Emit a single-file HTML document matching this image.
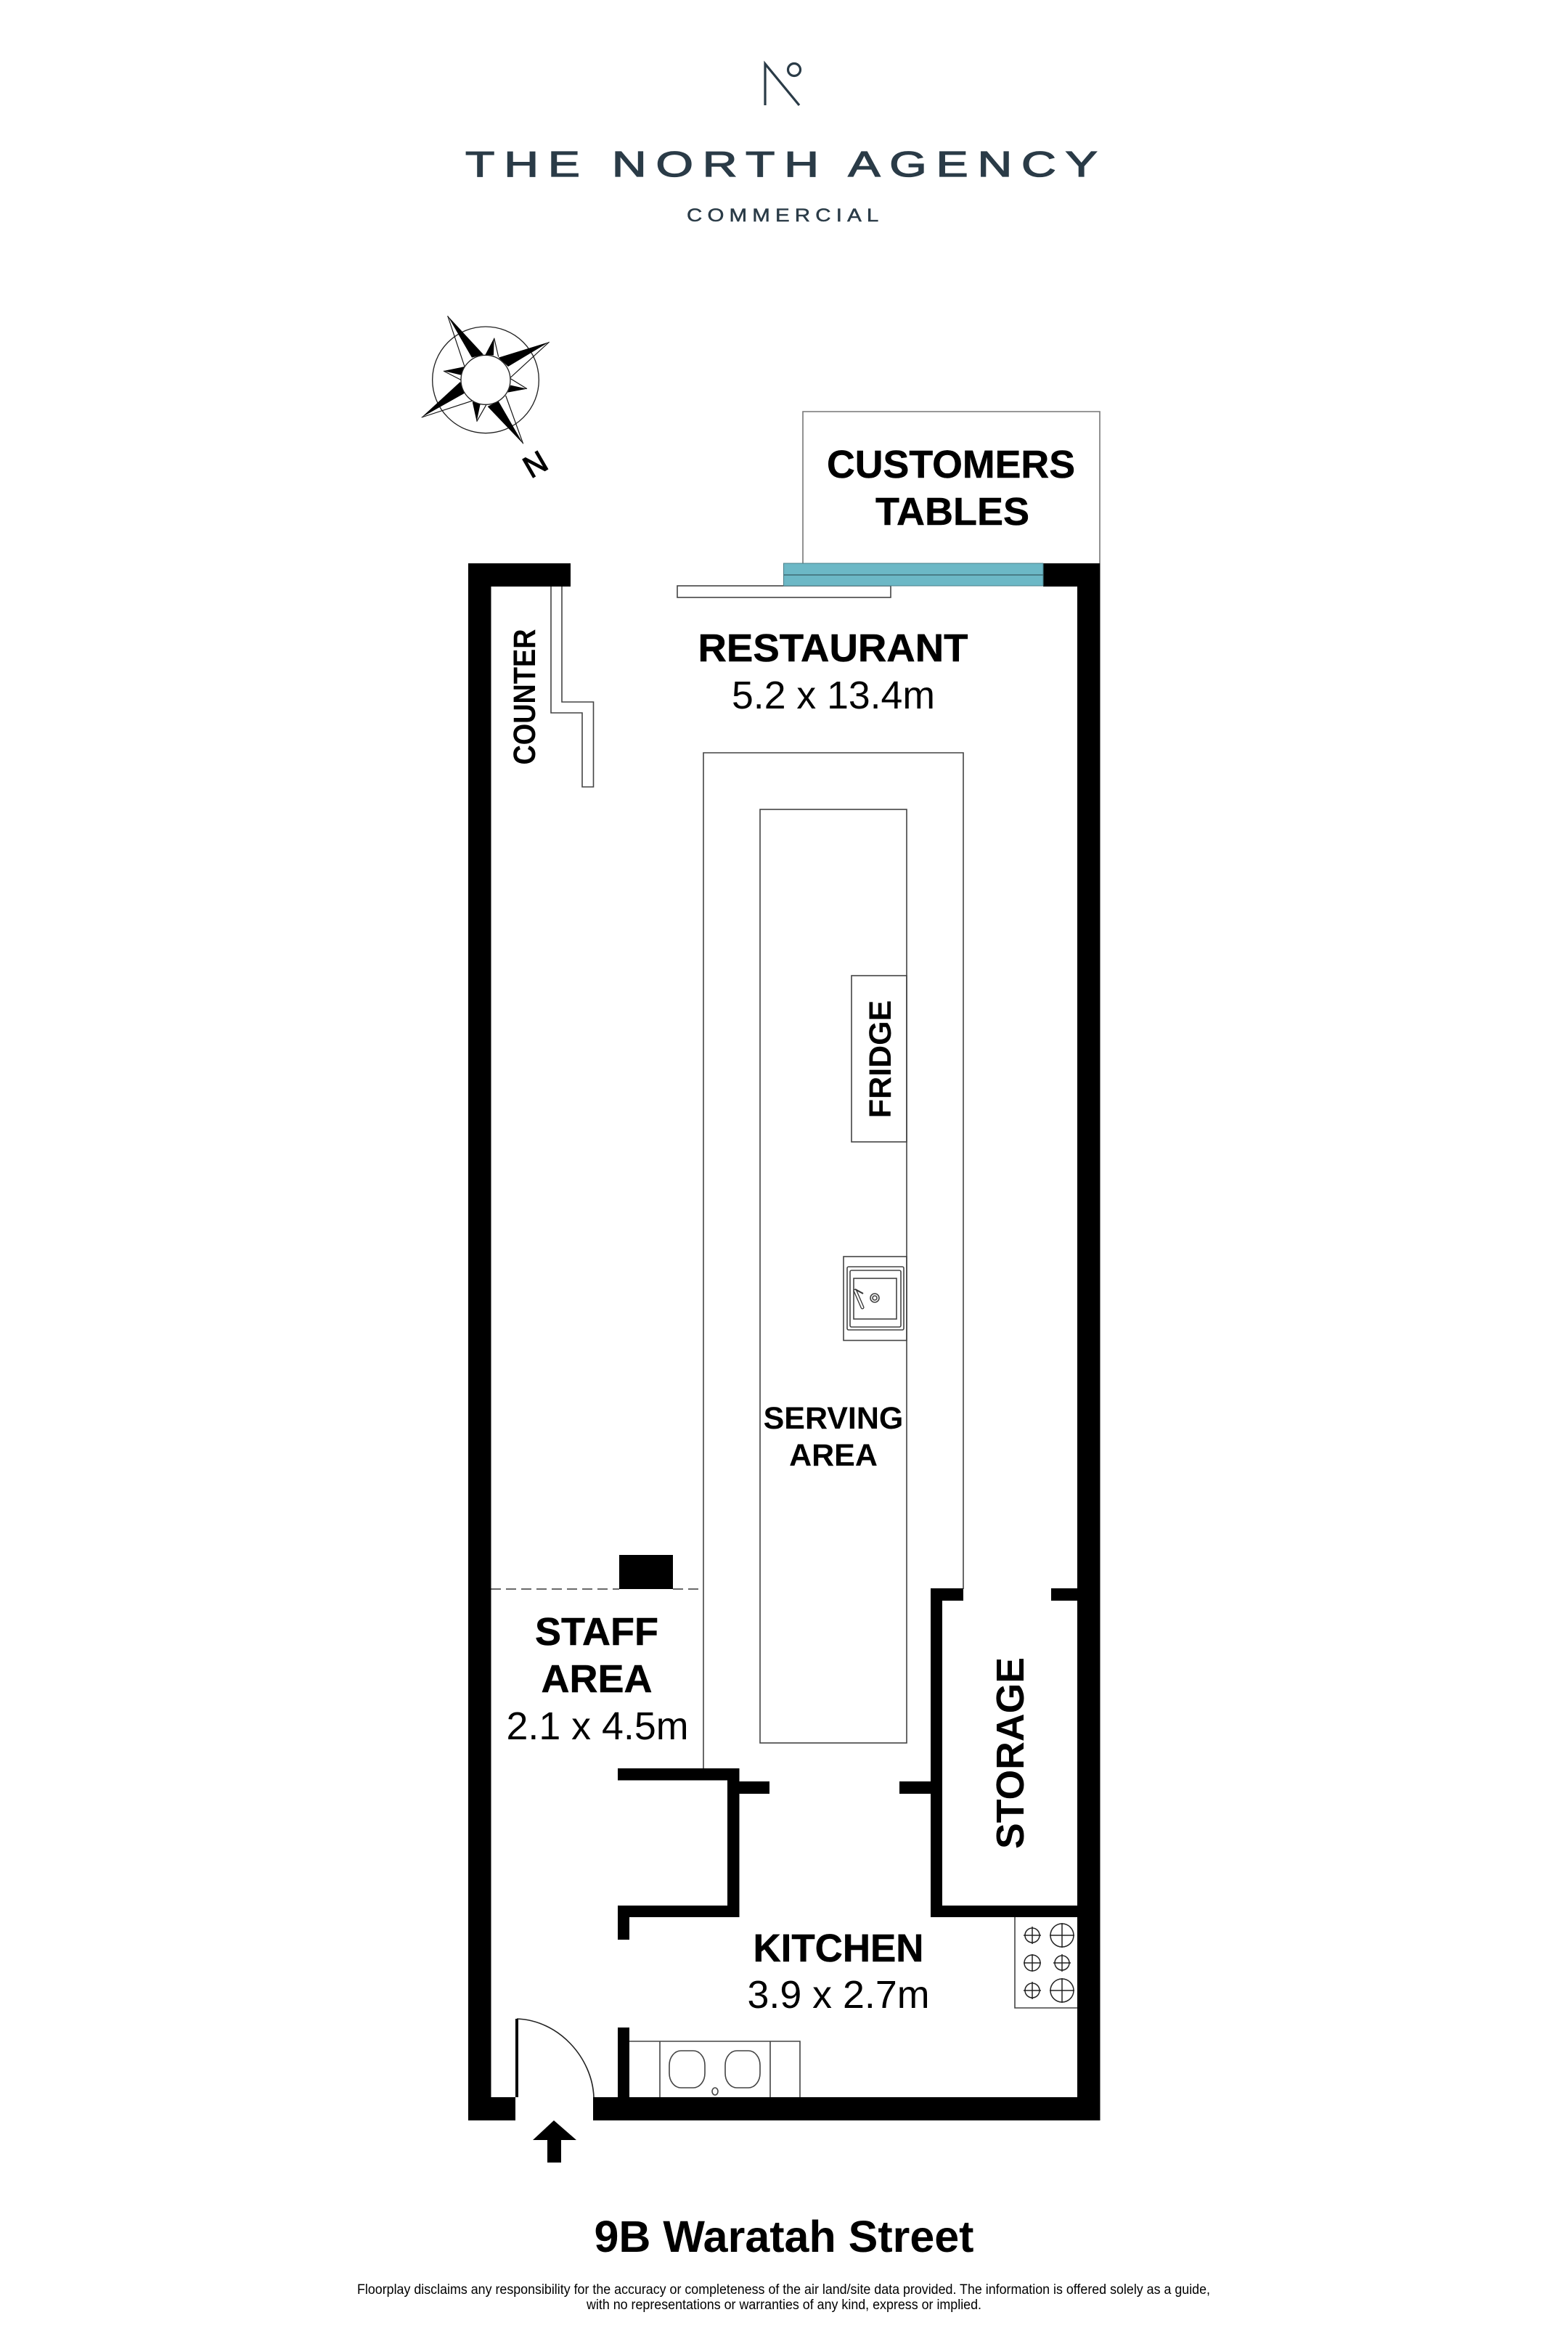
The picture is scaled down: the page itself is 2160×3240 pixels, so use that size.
<!DOCTYPE html>
<html><head><meta charset="utf-8"><style>
html,body{margin:0;padding:0;background:#fff}
svg{display:block}
text{font-family:"Liberation Sans",Arial,sans-serif;fill:#000}
.b{font-weight:bold;font-size:54px;text-anchor:middle;stroke:#000;stroke-width:.5}
.r{font-size:54px;text-anchor:middle}
.t{fill:none;stroke:#444;stroke-width:1.6}
.g{fill:none;stroke:#777;stroke-width:1.6}
.k{fill:#000}
</style></head><body>
<svg xmlns="http://www.w3.org/2000/svg" width="2160" height="3240" viewBox="0 0 2160 3240">
<rect width="2160" height="3240" fill="#fff"/>
<!-- logo -->
<g fill="none" stroke="#2a3b47" stroke-width="3.2">
<path d="M1054 145V88L1101 145"/>
<ellipse cx="1094" cy="96" rx="8.500" ry="8.500"/>
</g>
<text transform="translate(641,243) scale(1.35,1)" font-size="49" textLength="645" lengthAdjust="spacing" style="fill:#2a3b47;stroke:#2a3b47;stroke-width:1.3">THE NORTH AGENCY</text>
<text transform="translate(946,305) scale(1.18,1)" font-size="25" textLength="224" lengthAdjust="spacing" style="fill:#2a3b47;stroke:#2a3b47;stroke-width:.5">COMMERCIAL</text>
<!-- compass -->
<g transform="translate(560,420) scale(.33333)">
<circle cx="327" cy="310" r="220" fill="none" stroke="#222" stroke-width="4"/>
<g fill="none" stroke="#111" stroke-width="3.5">
<path d="M170 45L240 255M362 137L380 215M590 153L430 300M498 347L430 305M482 574L410 375M290 482L330 412M62 465L270 397M153 273L225 310"/>
</g>
<g fill="#000">
<polygon points="170,45 270,218 318,205"/>
<polygon points="362,137 325,207 360,208"/>
<polygon points="590,153 380,218 420,255"/>
<polygon points="498,347 430,332 418,362"/>
<polygon points="482,574 335,420 380,398"/>
<polygon points="290,482 272,400 305,410"/>
<polygon points="62,465 222,318 240,365"/>
<polygon points="153,273 240,255 225,290"/>
</g>
<circle cx="327" cy="310" r="102" fill="#fff" stroke="#222" stroke-width="4"/>
</g>
<text transform="translate(737,639) rotate(-30)" font-size="42" text-anchor="middle" y="15" style="stroke:#000;stroke-width:1.2">N</text>
<!-- customer tables -->
<path class="g" d="M1106 776V567H1515V776"/>
<text class="b" x="1310" y="658" textLength="342" lengthAdjust="spacingAndGlyphs">CUSTOMERS</text>
<text class="b" x="1312" y="723">TABLES</text>
<!-- thin fittings -->
<path class="t" d="M969 2436V1037H1327V2189"/>
<rect class="t" x="1047" y="1115" width="202" height="1286"/>
<rect class="t" x="1173" y="1344" width="76" height="229" fill="#fff"/>
<rect x="933" y="807" width="294" height="16" fill="#fff" stroke="#444" stroke-width="1.6"/>
<path class="t" d="M759 808V982H802V1084H817.500V967H774V808"/>
<path d="M676 2189H853M927 2189H969" stroke="#555" stroke-width="1.8" stroke-dasharray="14 7" fill="none"/>
<!-- sink -->
<rect class="t" x="1162" y="1731" width="87" height="115.500"/>
<rect class="t" x="1167" y="1745" width="78" height="87" rx="2"/>
<rect class="t" x="1171" y="1750" width="70" height="78" rx="2"/>
<rect class="t" x="1176" y="1761" width="59" height="56"/>
<circle class="t" cx="1205" cy="1788" r="6"/><circle class="t" cx="1205" cy="1788" r="3"/>
<path d="M1178 1778L1188 1801" stroke="#333" stroke-width="5" fill="none" stroke-linecap="round"/>
<path d="M1178 1778L1188 1801" stroke="#fff" stroke-width="2.400" fill="none" stroke-linecap="round"/>
<path d="M1178 1776L1189 1782" stroke="#333" stroke-width="2" fill="none"/>
<!-- walls -->
<g class="k">
<path d="M645 776H786V808H676.500V2889H710V2921H645Z"/>
<path d="M1437 776H1515.500V2921H817V2889H1484V808H1437Z"/>
<rect x="853" y="2142" width="74" height="47"/>
<path d="M851 2436H1018.500V2454H1060V2471H1018.500V2641H867V2672H851V2625H1002V2452.500H851Z"/>
<path d="M1282 2188H1327V2205H1298V2625H1484V2641H1282V2471H1239V2454H1282Z"/>
<rect x="1448" y="2188" width="36" height="17"/>
<rect x="851" y="2793" width="16" height="96"/>
<polygon points="763,2921 794,2948 773,2948 773,2979 754,2979 754,2948 734,2948"/>
</g>
<!-- window -->
<rect x="1079.500" y="776" width="357.500" height="31" fill="#6cb8c6" stroke="#4a7f8a" stroke-width="1"/>
<line x1="1079.500" x2="1437" y1="792" y2="792" stroke="#3f6a74" stroke-width="1.400"/>
<!-- door -->
<rect x="710" y="2781" width="4" height="108" fill="#000"/>
<path d="M712 2781C770 2783 816 2835 818 2889" fill="none" stroke="#222" stroke-width="1.600"/>
<!-- kitchen sink -->
<path class="t" d="M867 2812H1102V2889M909 2812V2889M1061 2812V2889"/>
<rect class="t" x="922" y="2825" width="49" height="51" rx="16" ry="20"/>
<rect class="t" x="999" y="2825" width="48" height="51" rx="16" ry="20"/>
<ellipse class="t" cx="985" cy="2881" rx="4" ry="5"/>
<!-- cooktop -->
<path class="t" d="M1398 2641V2766H1484"/>
<g fill="none" stroke="#222" stroke-width="1.500">
<circle cx="1422" cy="2666" r="10"/><path d="M1422 2654V2678M1410 2666H1434"/>
<circle cx="1463" cy="2666" r="16"/><path d="M1463 2649V2683M1446 2666H1480"/>
<circle cx="1422" cy="2704" r="11"/><path d="M1422 2692V2716M1410 2704H1434"/>
<circle cx="1463" cy="2704" r="10"/><path d="M1463 2692V2716M1451 2704H1475"/>
<circle cx="1422" cy="2742" r="10"/><path d="M1422 2730V2754M1410 2742H1434"/>
<circle cx="1463" cy="2742" r="16"/><path d="M1463 2725V2759M1446 2742H1480"/>
</g>
<!-- labels -->
<text class="b" x="1147.500" y="911" textLength="372" lengthAdjust="spacingAndGlyphs">RESTAURANT</text>
<text class="r" x="1148" y="976" textLength="280" lengthAdjust="spacingAndGlyphs">5.2 x 13.4m</text>
<text transform="translate(737,960) rotate(-90) scale(.88,1)" font-size="43" font-weight="bold" text-anchor="middle">COUNTER</text>
<text transform="translate(1227,1459) rotate(-90)" font-size="43" font-weight="bold" text-anchor="middle">FRIDGE</text>
<text font-size="43" font-weight="bold" text-anchor="middle" x="1148" y="1968">SERVING</text>
<text font-size="43" font-weight="bold" text-anchor="middle" x="1148" y="2019">AREA</text>
<text class="b" x="822" y="2266">STAFF</text>
<text class="b" x="822" y="2331">AREA</text>
<text class="r" x="823" y="2396" textLength="251" lengthAdjust="spacingAndGlyphs">2.1 x 4.5m</text>
<text transform="translate(1410,2415) rotate(-90)" font-size="54" font-weight="bold" text-anchor="middle" textLength="264" lengthAdjust="spacingAndGlyphs">STORAGE</text>
<text class="b" x="1155" y="2702" textLength="235" lengthAdjust="spacingAndGlyphs">KITCHEN</text>
<text class="r" x="1155" y="2766" textLength="251" lengthAdjust="spacingAndGlyphs">3.9 x 2.7m</text>
<text x="1080" y="3102" font-size="61" font-weight="bold" text-anchor="middle" textLength="523" lengthAdjust="spacingAndGlyphs">9B Waratah Street</text>
<text x="1079.500" y="3160" font-size="19" text-anchor="middle" textLength="1175" lengthAdjust="spacingAndGlyphs">Floorplay disclaims any responsibility for the accuracy or completeness of the air land/site data provided. The information is offered solely as a guide,</text>
<text x="1080" y="3181" font-size="19" text-anchor="middle" textLength="544" lengthAdjust="spacingAndGlyphs">with no representations or warranties of any kind, express or implied.</text>
</svg>
</body></html>
